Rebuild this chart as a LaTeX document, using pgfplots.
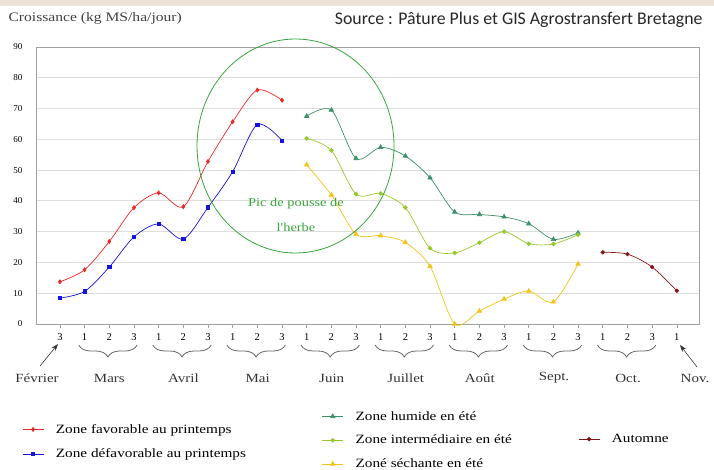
\documentclass[border=0pt]{standalone}
\usepackage{fontspec}
\setmainfont{Liberation Serif}
\newfontfamily\wserif[FakeStretch=1.2]{Liberation Serif}
\newfontfamily\carlito{Carlito}
\usepackage{pgfplots}
\pgfplotsset{compat=1.18}
\usetikzlibrary{decorations.pathreplacing,arrows.meta}
\definecolor{cred}{RGB}{235,40,40}
\definecolor{cblue}{RGB}{20,20,225}
\definecolor{chum}{RGB}{60,145,105}
\definecolor{cint}{RGB}{150,200,40}
\definecolor{csec}{RGB}{245,195,20}
\definecolor{caut}{RGB}{135,20,20}
\definecolor{ccircle}{RGB}{55,165,60}
\definecolor{cgrid}{RGB}{222,222,222}
\definecolor{caxis}{RGB}{160,160,160}
\definecolor{cbeige}{RGB}{238,226,216}
\pgfplotsset{
  mylegend/.style={
    legend image code/.code={\draw[mark repeat=2,mark phase=2] plot coordinates {(0pt,0pt)(10.5pt,0pt)(21pt,0pt)};},
    legend cell align=left}}
\begin{document}
\begin{tikzpicture}
\useasboundingbox (-36pt,-146pt) rectangle (678pt,324pt);
\fill[cbeige] (-36pt,318pt) rectangle (678pt,324pt);
\begin{axis}[at={(0pt,0pt)}, anchor=south west, scale only axis, width=663pt, height=277pt,
  xmin=-0.97, xmax=25.9, ymin=0, ymax=90, clip=false,
  xtick={0,...,25},
  xticklabels={3,1,2,3,1,2,3,1,2,3,1,2,3,1,2,3,1,2,3,1,2,3,1,2,3,1},
  ytick={0,10,...,90},
  ymajorgrids, grid style={cgrid, line width=0.8pt},
  axis line style={caxis, line width=0.8pt},
  tick pos=left, xtick align=outside, major tick length=4pt,
  x tick style={caxis, line width=0.6pt}, y tick style={draw=none},
  /pgf/number format/assume math mode=true,
  xticklabel style={font=\fontsize{10.5}{12}\selectfont, yshift=-2pt},
  yticklabel style={font=\fontsize{9}{11}\selectfont, xshift=-10pt},
]
\addplot[cred, smooth, line width=0.7pt, mark=diamond*, mark size=2pt, mark options={solid}] coordinates {(0,13.7)(1,17.6)(2,26.8)(3,37.8)(4,42.6)(5,38.1)(6,52.8)(7,65.7)(8,76)(9,72.7)};
\addplot[cblue, smooth, line width=0.7pt, mark=square*, mark size=1.7pt] coordinates {(0,8.4)(1,10.6)(2,18.5)(3,28.3)(4,32.5)(5,27.6)(6,37.9)(7,49.5)(8,64.8)(9,59.6)};
\addplot[chum, smooth, line width=0.7pt, mark=triangle*, mark size=2.5pt] coordinates {(10,67.5)(11,69.5)(12,53.8)(13,57.4)(14,54.6)(15,47.5)(16,36.4)(17,35.6)(18,34.8)(19,32.6)(20,27.5)(21,29.6)};
\addplot[cint, smooth, line width=0.7pt, mark=*, mark size=1.9pt] coordinates {(10,60.3)(11,56.4)(12,42.2)(13,42.4)(14,37.8)(15,24.6)(16,23.1)(17,26.4)(18,30)(19,26.1)(20,26)(21,29)};
\addplot[csec, smooth, line width=0.7pt, mark=triangle*, mark size=2.5pt] coordinates {(10,51.7)(11,41.9)(12,29.2)(13,28.7)(14,26.5)(15,18.7)(16,0)(17,4.2)(18,8.1)(19,10.7)(20,7.2)(21,19.5)};
\addplot[caut, smooth, line width=0.7pt, mark=*, mark size=1.8pt] coordinates {(22,23.3)(23,22.7)(24,18.5)(25,10.8)};
\end{axis}
% legends
\begin{axis}[at={(0pt,0pt)}, anchor=south west, scale only axis, width=663pt, height=277pt,
  hide axis, xmin=0, xmax=1, ymin=0, ymax=1, mylegend,
  legend style={at={(-0.0211,-0.354)}, anchor=north west, draw=none, fill=none, inner sep=0pt,
    font=\wserif\fontsize{12.7}{15}\selectfont, row sep=10pt,
    /tikz/every odd column/.append style={column sep=10pt}}]
\addlegendimage{cred, line width=0.7pt, mark=diamond*, mark size=2pt}
\addlegendentry{Zone favorable au printemps}
\addlegendimage{cblue, line width=0.7pt, mark=square*, mark size=1.7pt}
\addlegendentry{Zone défavorable au printemps}
\end{axis}
\begin{axis}[at={(0pt,0pt)}, anchor=south west, scale only axis, width=663pt, height=277pt,
  hide axis, xmin=0, xmax=1, ymin=0, ymax=1, mylegend,
  legend style={at={(0.431,-0.307)}, anchor=north west, draw=none, fill=none, inner sep=0pt,
    font=\wserif\fontsize{12.7}{15}\selectfont, row sep=9.5pt,
    /tikz/every odd column/.append style={column sep=10pt}}]
\addlegendimage{chum, line width=0.7pt, mark=triangle*, mark size=2.5pt}
\addlegendentry{Zone humide en été}
\addlegendimage{cint, line width=0.7pt, mark=*, mark size=1.9pt}
\addlegendentry{Zone intermédiaire en été}
\addlegendimage{csec, line width=0.7pt, mark=triangle*, mark size=2.5pt}
\addlegendentry{Zoné séchante en été}
\end{axis}
\begin{axis}[at={(0pt,0pt)}, anchor=south west, scale only axis, width=663pt, height=277pt,
  hide axis, xmin=0, xmax=1, ymin=0, ymax=1, mylegend,
  legend style={at={(0.8175,-0.390)}, anchor=north west, draw=none, fill=none, inner sep=0pt,
    font=\wserif\fontsize{12.7}{15}\selectfont,
    /tikz/every odd column/.append style={column sep=10pt}}]
\addlegendimage{caut, line width=0.7pt, mark=*, mark size=1.8pt}
\addlegendentry{Automne}
\end{axis}
% annotations
\node[anchor=west, font=\wserif\fontsize{13}{15}\selectfont, text=black!75] at (-31pt,306pt) {Croissance (kg MS/ha/jour)};
\node[anchor=east, font=\carlito\fontsize{17.8}{20}\selectfont, text=black!85] at (670pt,304pt) {Source : Pâture Plus et GIS Agrostransfert Bretagne};
\draw[ccircle, line width=0.8pt] (259.5pt,178pt) ellipse [x radius=98.5pt, y radius=107pt];
\node[font=\wserif\fontsize{12}{14}\selectfont, text=ccircle] at (260pt,120pt) {Pic de pousse de};
\node[font=\wserif\fontsize{12}{14}\selectfont, text=ccircle] at (260pt,97pt) {l'herbe};
% braces and months
\foreach \i/\m in {1/Mars,4/Avril,7/Mai,10/Juin,13/Juillet,16/Août,19/Sept.,22/Oct.}{
  \pgfmathsetmacro{\xa}{24+24.7*\i-6}
  \pgfmathsetmacro{\xb}{24+24.7*(\i+2)+3}
  \pgfmathsetmacro{\xc}{24+24.7*(\i+1)}
  \draw[black!60, line width=0.8pt, decorate, decoration={brace, mirror, amplitude=12pt}] (\xa pt,-21pt) -- (\xb pt,-21pt);
  \node[font=\wserif\fontsize{12.5}{15}\selectfont, text=black!80] at (\xc pt,-54pt) {\m};
}
\node[font=\wserif\fontsize{12.5}{15}\selectfont, text=black!80] at (1pt,-54pt) {Février};
\node[font=\wserif\fontsize{12.5}{15}\selectfont, text=black!80] at (659pt,-54pt) {Nov.};
\draw[black!80, line width=0.6pt, -{Stealth[length=7pt,width=5pt]}] (4pt,-42pt) -- (22pt,-20pt);
\draw[black!80, line width=0.6pt, -{Stealth[length=7pt,width=5pt]}] (661pt,-43pt) -- (644pt,-21pt);
\end{tikzpicture}
\end{document}
